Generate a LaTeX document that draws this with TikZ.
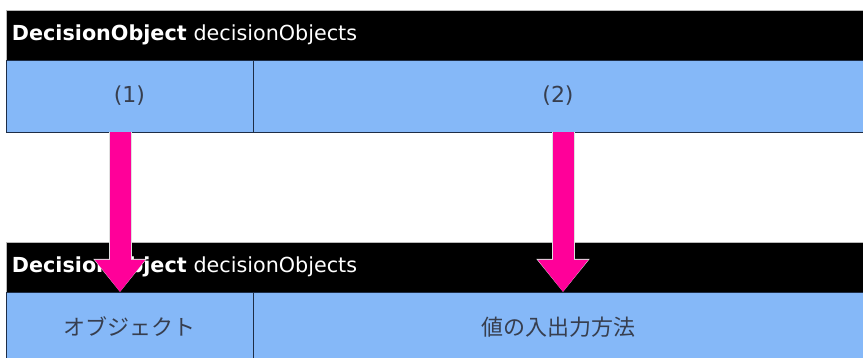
\documentclass[tikz,border=0pt]{standalone}
\usepackage{fontspec}
\setmainfont{DejaVu Sans}
\newfontfamily\jpfont{Noto Sans CJK JP}
\usetikzlibrary{positioning,arrows.meta}
\definecolor{cellblue}{RGB}{133,184,248}
\definecolor{cellline}{RGB}{30,45,70}
\definecolor{celltext}{RGB}{55,62,78}
\definecolor{arrowpink}{RGB}{255,0,153}

\begin{document}
\begin{tikzpicture}[
    x=1pt, y=1pt,
    every node/.style={inner sep=0pt, outer sep=0pt},
    header/.style={draw=gray!55, line width=0.6pt, fill=black, text=white, minimum height=50pt,
        text width=845pt, inner xsep=6pt, align=left, font=\fontsize{20.7}{23}\selectfont},
    keycell/.style={draw=cellline, line width=0.8pt, fill=cellblue, text=celltext, minimum width=247pt},
    valcell/.style={draw=cellline, line width=0.8pt, fill=cellblue, text=celltext, minimum width=610pt},
    numtext/.style={font=\fontsize{22}{24}\selectfont},
    jptext/.style={font=\jpfont\fontsize{22}{24}\selectfont},
    bigarrow/.style={line width=21pt, draw=arrowpink, -{Triangle[width=48pt,length=32pt]},
        preaction={draw=gray!25, line width=23pt, -{Triangle[width=51pt,length=33pt]}}}
]
\useasboundingbox (0,0) rectangle (863,358);

\node[header, anchor=north west] (hdrTop) at (6,348) {\textbf{DecisionObject} decisionObjects};
\node[keycell, numtext, minimum height=72pt, below right=0pt and 0pt of hdrTop.south west, anchor=north west] (keyTop) {(1)};
\node[valcell, numtext, minimum height=72pt, right=0pt of keyTop] (valTop) {(2)};

\node[header, below right=110pt and 0pt of keyTop.south west, anchor=north west] (hdrBot) {\textbf{DecisionObject} decisionObjects};
\node[keycell, jptext, minimum height=70pt, below right=0pt and 0pt of hdrBot.south west, anchor=north west] (keyBot) {オブジェクト};
\node[valcell, jptext, minimum height=70pt, right=0pt of keyBot] (valBot) {値の入出力方法};

\draw[bigarrow] ([xshift=-9.5pt]keyTop.south) -- ([xshift=-9.5pt]keyBot.north);
\draw[bigarrow] ([xshift=5pt]valTop.south) -- ([xshift=5pt]valBot.north);
\end{tikzpicture}
\end{document}
